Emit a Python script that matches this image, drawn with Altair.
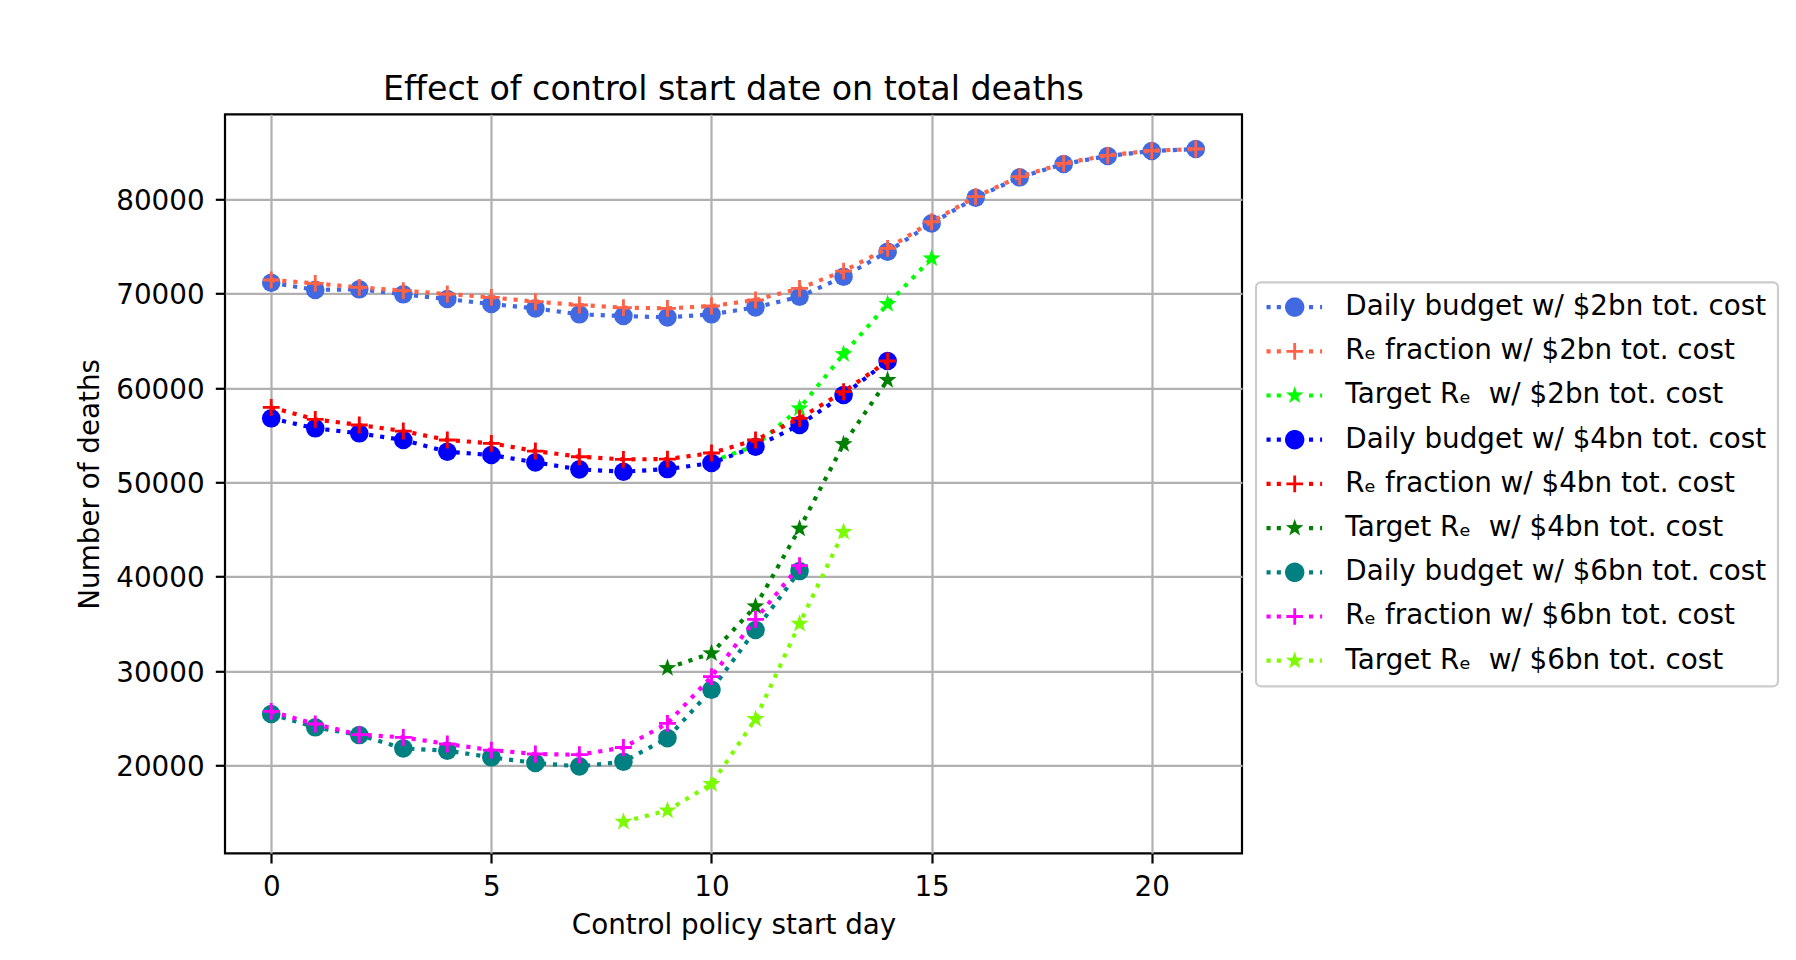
import math
import altair as alt
import pandas as pd

# ---------------- data ----------------
days_all = list(range(22))
db2 = [71160, 70400, 70460, 69930, 69430, 68900, 68440, 67810, 67630, 67490, 67810,
       68550, 69670, 71800, 74450, 77450, 80170, 82330, 83740, 84590, 85120, 85330]
rf2 = [71450, 71090, 70670, 70320, 69960, 69610, 69150, 68800, 68520, 68440, 68690,
       69330, 70560, 72390, 74800, 77620, 80280, 82400, 83810, 84660, 85150, 85330]
tr2_days = [10, 11, 12, 13, 14, 15]
tr2 = [52200, 53900, 57850, 63600, 68900, 73740]

days_14 = list(range(15))
db4 = [56790, 55730, 55200, 54490, 53250, 52900, 52120, 51380, 51130, 51410, 52050,
       53780, 56080, 59260, 62860]
rf4 = [57950, 56680, 56080, 55440, 54490, 54140, 53320, 52720, 52440, 52470, 53110,
       54490, 56790, 59610, 62860]
tr4_days = [9, 10, 11, 12, 13, 14]
tr4 = [30320, 31880, 36860, 45100, 54050, 60850]

days_12 = list(range(13))
db6 = [25450, 24040, 23220, 21810, 21560, 20860, 20260, 19900, 20400, 22900, 28030,
       34350, 40600]
rf6 = [25730, 24390, 23260, 22980, 22270, 21630, 21210, 21140, 21900, 24460, 29420,
       35480, 41170]
tr6_days = [8, 9, 10, 11, 12, 13]
tr6 = [14030, 15230, 18030, 24920, 35020, 44750]

series_names = [
    "Daily budget w/ $2bn tot. cost",
    "R\u2091 fraction w/ $2bn tot. cost",
    "Target R\u2091\u00a0 w/ $2bn tot. cost",
    "Daily budget w/ $4bn tot. cost",
    "R\u2091 fraction w/ $4bn tot. cost",
    "Target R\u2091\u00a0 w/ $4bn tot. cost",
    "Daily budget w/ $6bn tot. cost",
    "R\u2091 fraction w/ $6bn tot. cost",
    "Target R\u2091\u00a0 w/ $6bn tot. cost",
]
series_x = [days_all, days_all, tr2_days, days_14, days_14, tr4_days, days_12, days_12, tr6_days]
series_y = [db2, rf2, tr2, db4, rf4, tr4, db6, rf6, tr6]
series_marker = ["circle", "plus", "star"] * 3

x_ticks = [0, 5, 10, 15, 20]
y_ticks = [20000, 30000, 40000, 50000, 60000, 70000, 80000]

# ---------------- styles ----------------
colors = ["#4169e1", "#ff6347", "#00ff00", "#0000ff", "#ff0000", "#008000",
          "#008080", "#ff00ff", "#7cfc00"]
FONT = "DejaVu Sans"
FS = 27.8
LW = 4.17
DASH = [4.17, 6.88]


def poly(points, u):
    return "M" + "L".join(f"{x / u:.4f},{y / u:.4f}" for x, y in points) + "Z"


def rect(x0, y0, x1, y1, u):
    return poly([(x0, y0), (x1, y0), (x1, y1), (x0, y1)], u)


def star_pts(outer, inner):
    pts = []
    for k in range(10):
        a = math.radians(-90 + 36 * k)
        r = outer if k % 2 == 0 else inner
        pts.append((r * math.cos(a), r * math.sin(a)))
    return pts


def circle_pts(r, n=40):
    return [(r * math.cos(math.pi + 2 * math.pi * k / n), r * math.sin(math.pi + 2 * math.pi * k / n))
            for k in range(n)]


# plot marker paths (unit box -1..1)
plus_path = rect(-1, -0.168, 1, 0.168, 1) + rect(-0.168, -1, 0.168, 1, 1)
star_path = poly(star_pts(1.0, 0.40), 1)
marker_shape = {"circle": "circle", "plus": plus_path, "star": star_path}
marker_size = {"circle": 345, "plus": 285, "star": 360}

# legend composite symbols (dotted line + marker), 10 px per unit
U = 10.0
dot_spans = [(-28.2, -24.1), (-17.9, -13.8), (14.3, 18.4), (25.4, 27.4)]
dots = "".join(rect(a, -2.08, b, 2.08, U) for a, b in dot_spans)
leg_marker = {
    "circle": poly(circle_pts(9.7), U),
    "plus": rect(-8.35, -1.4, 8.35, 1.4, U) + rect(-1.4, -8.35, 1.4, 8.35, U),
    "star": poly(star_pts(9.3, 3.72), U),
}
legend_paths = [dots + leg_marker[m] for m in series_marker]

# ---------------- table ----------------
rows = []
for name, xs, ys in zip(series_names, series_x, series_y):
    for xv, yv in zip(xs, ys):
        rows.append({"series": name, "day": xv, "deaths": yv})
df = pd.DataFrame(rows)

x_enc = alt.X(
    "day:Q",
    scale=alt.Scale(domain=[-1.05, 22.05], nice=False, zero=False),
    axis=alt.Axis(values=x_ticks, title="Control policy start day", labelPadding=11,
                  titleY=80.7, titleBaseline="alphabetic"),
)
y_enc = alt.Y(
    "deaths:Q",
    scale=alt.Scale(domain=[10690, 89010], nice=False, zero=False),
    axis=alt.Axis(values=y_ticks, format="d", title="Number of deaths", labelPadding=11.2,
                  labelOffset=2, titleX=-126.5, titleBaseline="alphabetic"),
)

layers = []
for name, color, m in zip(series_names, colors, series_marker):
    sub = alt.Chart().transform_filter(alt.FieldEqualPredicate(field="series", equal=name))
    layers.append(
        sub.mark_line(color=color, strokeWidth=LW, strokeDash=DASH, strokeCap="butt")
        .encode(x=x_enc, y=y_enc)
    )
    layers.append(
        sub.mark_point(shape=marker_shape[m], size=marker_size[m], filled=True,
                       color=color, opacity=1, strokeWidth=0)
        .encode(x=x_enc, y=y_enc)
    )

leg = alt.Legend(
    title=None, orient="none", legendX=1031, legendY=168, padding=10.9,
    rowPadding=15.2, symbolOffset=13.9, labelOffset=36.7, labelFont=FONT,
    labelFontSize=FS, labelColor="black", labelLimit=1000, strokeColor="#cccccc",
    fillColor="white", cornerRadius=5, symbolSize=400, symbolStrokeWidth=0,
    symbolOpacity=1,
)
legend_layer = (
    alt.Chart()
    .transform_filter("false")
    .mark_point(filled=True, opacity=1, size=400, strokeWidth=0)
    .encode(
        x=x_enc,
        y=y_enc,
        color=alt.Color("series:N", scale=alt.Scale(domain=series_names, range=colors), legend=leg),
        shape=alt.Shape("series:N", scale=alt.Scale(domain=series_names, range=legend_paths), legend=leg),
    )
)
layers.append(legend_layer)

chart = (
    alt.layer(*layers, data=df)
    .properties(
        width=1017,
        height=739,
        title=alt.TitleParams(
            text="Effect of control start date on total deaths", font=FONT, fontSize=33.3,
            fontWeight="normal", color="black", anchor="middle", frame="group",
            baseline="alphabetic", offset=16, dy=35,
        ),
        autosize=alt.AutoSizeParams(type="none"),
        padding={"left": 217, "top": 106.3, "right": 540, "bottom": 92},
    )
    .configure_view(stroke="black", strokeWidth=2.2)
    .configure_axis(
        domain=False, grid=True, gridColor="#b0b0b0", gridWidth=2.2, gridOpacity=1,
        tickColor="black", tickWidth=2.2, tickSize=9.7, labelFont=FONT, labelFontSize=FS,
        labelColor="black", titleFont=FONT, titleFontSize=FS, titleFontWeight="normal",
        titleColor="black",
    )
    .configure_legend(strokeWidth=2.2)
)

chart.save("out.html", embed_options={"renderer": "svg", "actions": False})
